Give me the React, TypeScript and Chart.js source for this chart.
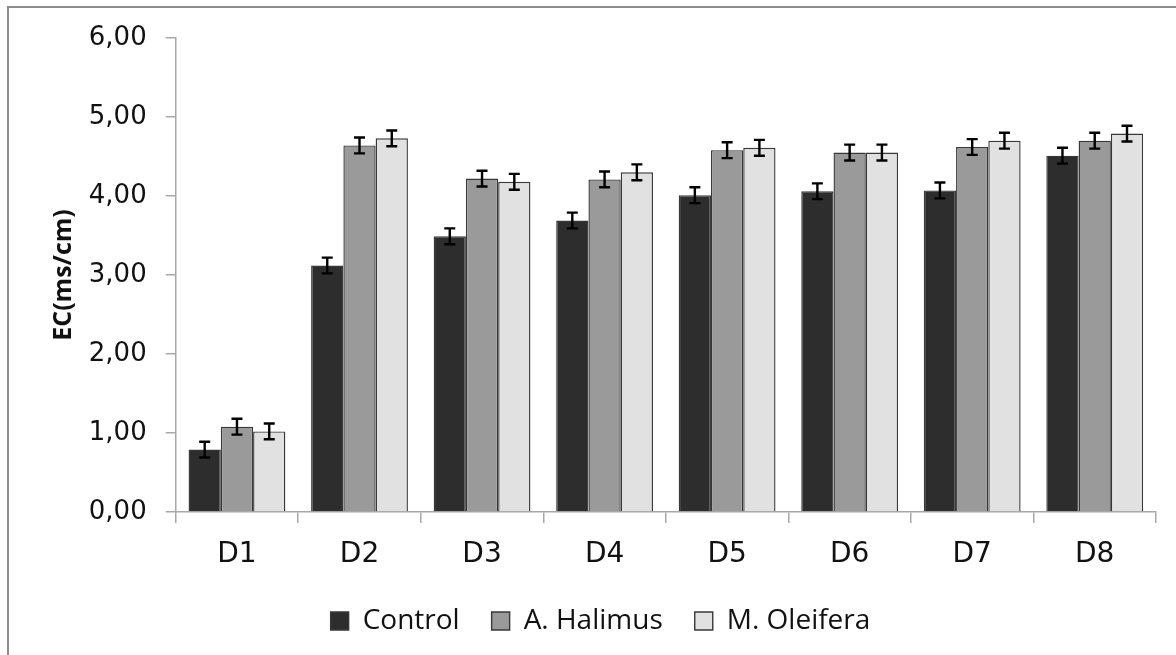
import React, { useEffect, useRef } from "react";
import { Chart, registerables } from "chart.js";

Chart.register(...registerables);

const categories = ["D1", "D2", "D3", "D4", "D5", "D6", "D7", "D8"];
const seriesNames = ["Control", "A. Halimus", "M. Oleifera"];
const controlValues = [0.79, 3.12, 3.49, 3.69, 4.01, 4.06, 4.07, 4.51];
const halimusValues = [1.08, 4.64, 4.22, 4.21, 4.58, 4.55, 4.62, 4.7];
const oleiferaValues = [1.02, 4.73, 4.18, 4.3, 4.61, 4.55, 4.7, 4.79];
const controlErrors = [0.1, 0.1, 0.1, 0.1, 0.1, 0.1, 0.1, 0.1];
const halimusErrors = [0.1, 0.1, 0.1, 0.1, 0.1, 0.1, 0.1, 0.1];
const oleiferaErrors = [0.1, 0.1, 0.1, 0.1, 0.1, 0.1, 0.1, 0.1];
const yMin = 0;
const yMax = 6;
const yStep = 1;
const yTitle = "EC(ms/cm)";

const fills = ["#2d2d2d", "#9a9a9a", "#e1e1e1"];
const axisColor = "#a8a8a8";

const errorBarPlugin = {
  id: "errorBars",
  afterDatasetsDraw(chart: any) {
    const ctx = chart.ctx;
    const yScale = chart.scales.y;
    ctx.save();
    ctx.strokeStyle = "#000000";
    ctx.lineWidth = 2.4;
    chart.data.datasets.forEach((ds: any, i: number) => {
      const meta = chart.getDatasetMeta(i);
      if (meta.hidden) return;
      meta.data.forEach((el: any, j: number) => {
        const v = ds.data[j];
        const e = ds.errors[j];
        const x = el.x;
        const yTop = yScale.getPixelForValue(v + e);
        const yBot = yScale.getPixelForValue(v - e);
        const cap = 5.5;
        ctx.beginPath();
        ctx.moveTo(x, yTop);
        ctx.lineTo(x, yBot);
        ctx.moveTo(x - cap, yTop);
        ctx.lineTo(x + cap, yTop);
        ctx.moveTo(x - cap, yBot);
        ctx.lineTo(x + cap, yBot);
        ctx.stroke();
      });
    });
    ctx.restore();
  },
};

// shift the centred legend a little to the right, as in the original layout
const legendShiftPlugin = {
  id: "legendShift",
  afterLayout(chart: any) {
    const lg = chart.legend;
    if (lg) {
      lg.left += 18;
      lg.right += 18;
    }
  },
};

export default function App() {
  const canvasRef = useRef<HTMLCanvasElement | null>(null);

  useEffect(() => {
    if (!canvasRef.current) return;
    const values = [controlValues, halimusValues, oleiferaValues];
    const errors = [controlErrors, halimusErrors, oleiferaErrors];
    const chart = new Chart(canvasRef.current, {
      type: "bar",
      data: {
        labels: categories,
        datasets: seriesNames.map((name, i) => ({
          label: name,
          data: values[i],
          errors: errors[i],
          backgroundColor: fills[i],
          borderColor: "#383838",
          borderWidth: 1.4,
          categoryPercentage: 0.79,
          barPercentage: 1,
        })) as any,
      },
      options: {
        responsive: false,
        animation: false,
        layout: { padding: { top: 30, right: 20, bottom: 10, left: 0 } },
        plugins: {
          tooltip: { enabled: false },
          legend: {
            position: "bottom",
            labels: {
              boxWidth: 18,
              boxHeight: 18,
              padding: 32,
              color: "#111111",
              font: { family: "'Open Sans', sans-serif", size: 28 },
            },
          },
        },
        scales: {
          x: {
            grid: {
              offset: true,
              drawOnChartArea: false,
              drawTicks: true,
              tickLength: 11,
              color: axisColor,
              lineWidth: 1.5,
            },
            border: { display: true, color: axisColor, width: 1.5 },
            ticks: {
              color: "#111111",
              padding: 15,
              font: { family: "'DejaVu Sans', sans-serif", size: 28 },
            },
            afterFit(scale: any) {
              scale.height = 63;
            },
          },
          y: {
            min: yMin,
            max: yMax,
            grid: {
              drawOnChartArea: false,
              drawTicks: true,
              tickLength: 10,
              color: axisColor,
              lineWidth: 1.5,
            },
            border: { display: true, color: axisColor, width: 1.5 },
            ticks: {
              stepSize: yStep,
              color: "#111111",
              padding: 19,
              font: { family: "'DejaVu Sans', sans-serif", size: 26 },
              callback: (v: any) => Number(v).toFixed(2).replace(".", ","),
            },
            title: {
              display: true,
              text: yTitle,
              color: "#111111",
              padding: { top: 40, bottom: 0 },
              font: { family: "'Open Sans', sans-serif", size: 25, weight: "bold" },
            },
            afterFit(scale: any) {
              scale.width = 166.7;
              scale.paddingTop = 10;
            },
          },
        },
      },
      plugins: [errorBarPlugin, legendShiftPlugin],
    } as any);
    return () => chart.destroy();
  }, []);

  return (
    <div
      style={{
        position: "fixed",
        left: 7,
        top: 6,
        width: 1169,
        height: 649,
        borderTop: "2px solid #8c8c8c",
        borderLeft: "2px solid #8c8c8c",
        boxSizing: "border-box",
        background: "#ffffff",
        overflow: "hidden",
      }}
    >
      <canvas
        ref={canvasRef}
        width={1167}
        height={647}
        style={{ display: "block", width: 1167, height: 647 }}
      />
    </div>
  );
}
